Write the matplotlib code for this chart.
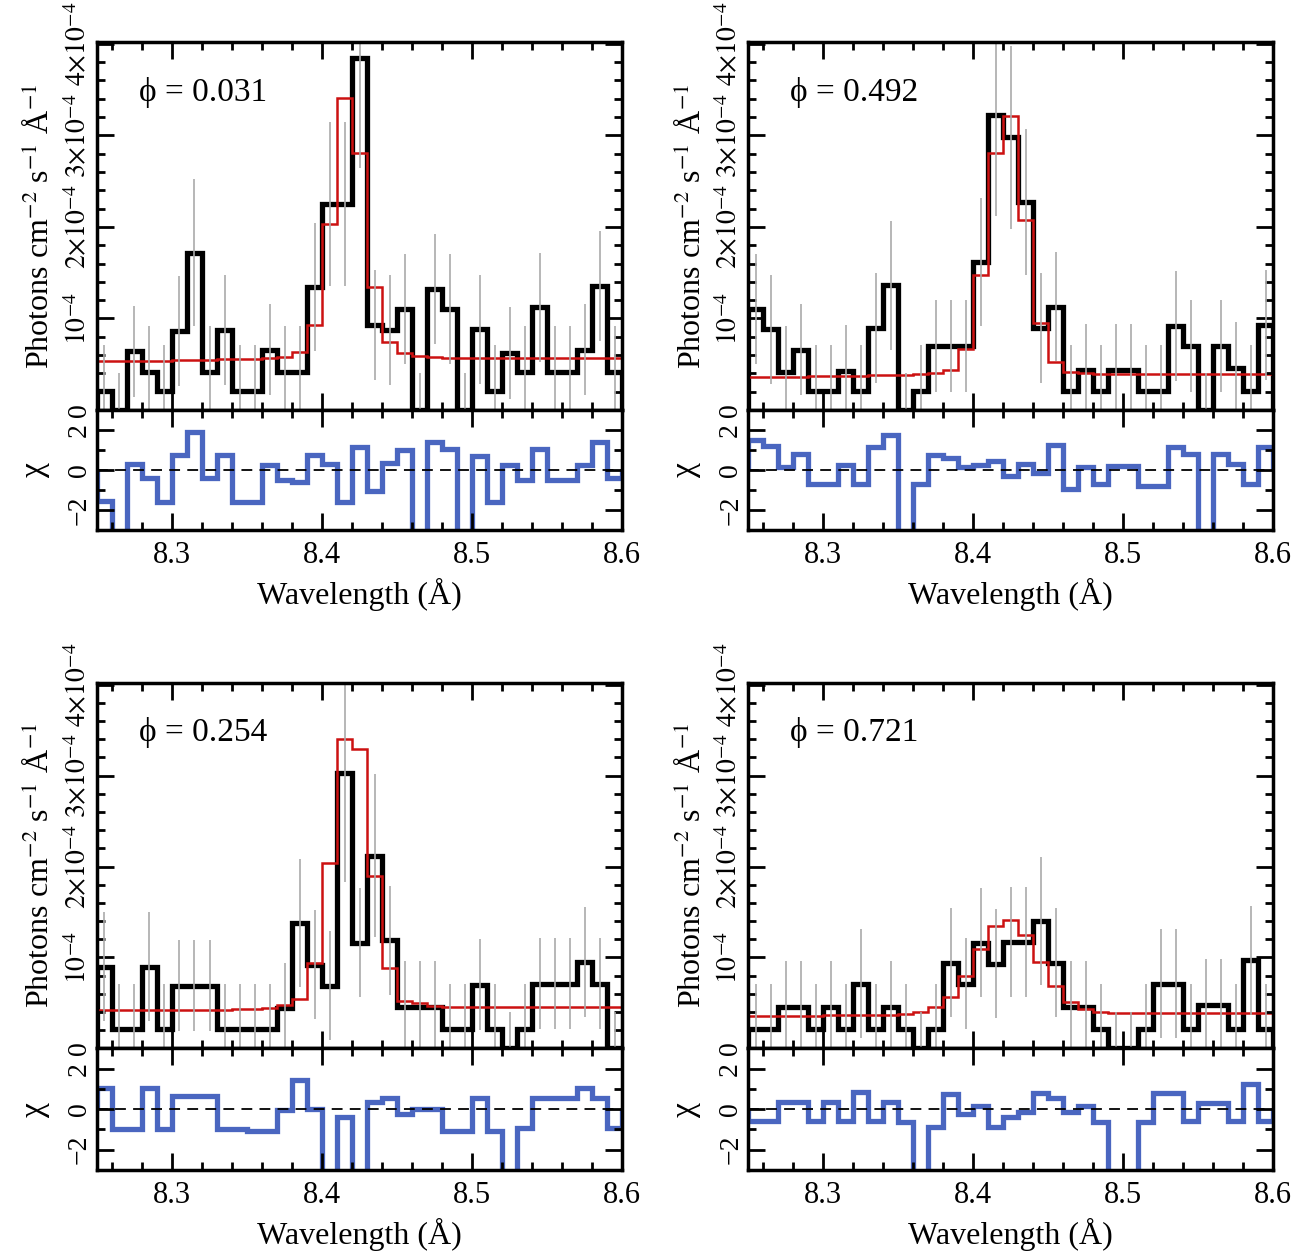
import numpy as np
import matplotlib
matplotlib.use("Agg")
import matplotlib.pyplot as plt
from matplotlib.ticker import MultipleLocator, FixedLocator

plt.rcParams['font.family'] = ['Liberation Serif', 'DejaVu Serif']
plt.rcParams['mathtext.fontset'] = 'stix'

# bin left edges, 0.01 A wide, 8.25 .. 8.59
edges = np.round(8.25 + 0.01 * np.arange(35), 3)

phases = ["0.031", "0.492", "0.254", "0.721"]

# flux in units of 1e-4 photons cm^-2 s^-1 A^-1
data_031 = [0.21, 0, 0.64, 0.42, 0.21, 0.86, 1.72, 0.42, 0.87, 0.21, 0.21, 0.66, 0.42, 0.42, 1.34,
            2.25, 2.25, 3.84, 0.93, 0.87, 1.10, 0, 1.32, 1.10, 0, 0.88, 0.21, 0.62, 0.42, 1.12,
            0.42, 0.42, 0.66, 1.35, 0.42]
model_031 = [0.53, 0.53, 0.54, 0.54, 0.54, 0.55, 0.55, 0.55, 0.56, 0.56, 0.56, 0.57, 0.58, 0.63, 0.93,
             2.03, 3.41, 2.81, 1.34, 0.74, 0.62, 0.59, 0.58, 0.57, 0.57, 0.57, 0.57, 0.57, 0.57, 0.57,
             0.57, 0.57, 0.57, 0.57, 0.57]
resid_031 = [-1.56, -3.5, 0.3, -0.4, -1.6, 0.74, 1.92, -0.4, 0.74, -1.6, -1.6, 0.25, -0.5, -0.62, 0.74,
             0.3, -1.6, 1.15, -1.07, 0.36, 1.02, -3.5, 1.39, 1.07, -3.5, 0.69, -1.6, 0.25, -0.5, 1.07,
             -0.5, -0.5, 0.25, 1.39, -0.4]

data_492 = [1.10, 0.88, 0.42, 0.66, 0.21, 0.21, 0.43, 0.21, 0.90, 1.36, 0, 0.21, 0.70, 0.70, 0.70,
            1.62, 3.22, 2.98, 2.27, 0.90, 1.13, 0.21, 0.44, 0.21, 0.44, 0.44, 0.21, 0.21, 0.92, 0.70,
            0, 0.70, 0.46, 0.21, 0.93]
model_492 = [0.36, 0.36, 0.36, 0.36, 0.37, 0.37, 0.37, 0.37, 0.38, 0.38, 0.38, 0.39, 0.40, 0.44, 0.67,
             1.47, 2.81, 3.21, 2.07, 0.95, 0.52, 0.42, 0.40, 0.39, 0.39, 0.39, 0.39, 0.39, 0.39, 0.39,
             0.39, 0.39, 0.39, 0.39, 0.39]
resid_492 = [1.48, 1.18, 0.16, 0.79, -0.69, -0.69, 0.25, -0.69, 1.15, 1.75, -3.5, -0.69, 0.74, 0.62, 0.13,
             0.25, 0.46, -0.3, 0.3, -0.13, 1.23, -0.95, 0.16, -0.69, 0.2, 0.2, -0.79, -0.79, 1.15, 0.79,
             -3.5, 0.79, 0.3, -0.69, 1.15]

data_254 = [0.90, 0.21, 0.21, 0.90, 0.21, 0.69, 0.69, 0.69, 0.21, 0.21, 0.21, 0.21, 0.44, 1.38, 0.92,
            0.69, 3.03, 1.16, 2.12, 1.19, 0.46, 0.46, 0.46, 0.21, 0.21, 0.70, 0.21, 0, 0.21, 0.71,
            0.71, 0.71, 0.95, 0.71, 0]
model_254 = [0.42, 0.42, 0.42, 0.42, 0.42, 0.42, 0.42, 0.42, 0.42, 0.43, 0.43, 0.44, 0.48, 0.54, 0.94,
             2.04, 3.40, 3.29, 1.90, 0.88, 0.52, 0.50, 0.47, 0.45, 0.45, 0.45, 0.45, 0.45, 0.45, 0.45,
             0.45, 0.45, 0.45, 0.45, 0.45]
resid_254 = [1.02, -0.98, -0.98, 1.02, -0.98, 0.66, 0.66, 0.66, -0.98, -0.98, -1.07, -1.07, -0.03, 1.44, 0.0,
             -3.5, -0.4, -3.5, 0.33, 0.57, -0.25, 0.03, 0.03, -1.07, -1.07, 0.57, -1.07, -3.5, -0.95, 0.57,
             0.57, 0.57, 1.02, 0.57, -0.95]

data_721 = [0.21, 0.21, 0.46, 0.46, 0.21, 0.46, 0.21, 0.71, 0.21, 0.46, 0.21, 0, 0.21, 0.94, 0.71,
            1.16, 0.93, 1.17, 1.17, 1.40, 0.94, 0.46, 0.46, 0.21, 0, 0, 0.21, 0.71, 0.71, 0.21,
            0.48, 0.48, 0.21, 0.97, 0.21]
model_721 = [0.36, 0.36, 0.36, 0.36, 0.36, 0.37, 0.37, 0.37, 0.37, 0.37, 0.38, 0.40, 0.45, 0.57, 0.80,
             1.09, 1.35, 1.41, 1.25, 0.95, 0.69, 0.51, 0.43, 0.40, 0.39, 0.39, 0.39, 0.39, 0.39, 0.39,
             0.39, 0.39, 0.39, 0.39, 0.39]
resid_721 = [-0.57, -0.57, 0.33, 0.33, -0.57, 0.33, -0.57, 0.85, -0.57, 0.33, -0.62, -3.5, -0.9, 0.74, -0.25,
             0.16, -0.9, -0.4, -0.16, 0.79, 0.57, -0.16, 0.16, -0.62, -3.5, -3.5, -0.62, 0.79, 0.79, -0.57,
             0.3, 0.3, -0.57, 1.23, -0.57]

# 1-sigma errors (1e-4 units)
err_031 = [0.5, 0.4, 0.5, 0.5, 0.5, 0.6, 0.8, 0.5, 0.6, 0.5, 0.5, 0.5, 0.5, 0.5, 0.7,
           0.9, 0.9, 1.2, 0.6, 0.6, 0.6, 0.4, 0.6, 0.6, 0.4, 0.6, 0.5, 0.5, 0.5, 0.6,
           0.5, 0.5, 0.5, 0.6, 0.5]
err_492 = [0.6, 0.6, 0.5, 0.5, 0.5, 0.5, 0.5, 0.5, 0.6, 0.7, 0.4, 0.5, 0.5, 0.5, 0.5,
           0.7, 1.1, 1.0, 0.8, 0.6, 0.6, 0.5, 0.5, 0.5, 0.5, 0.5, 0.5, 0.5, 0.6, 0.5,
           0.4, 0.5, 0.5, 0.5, 0.6]
err_254 = [0.6, 0.5, 0.5, 0.6, 0.5, 0.5, 0.5, 0.5, 0.5, 0.5, 0.5, 0.5, 0.5, 0.7, 0.6,
           0.6, 1.2, 0.6, 0.9, 0.6, 0.5, 0.5, 0.5, 0.5, 0.5, 0.5, 0.5, 0.4, 0.5, 0.5,
           0.5, 0.5, 0.6, 0.5, 0.4]
err_721 = [0.5, 0.5, 0.5, 0.5, 0.5, 0.5, 0.5, 0.6, 0.5, 0.5, 0.5, 0.4, 0.5, 0.6, 0.5,
           0.6, 0.6, 0.6, 0.6, 0.7, 0.6, 0.5, 0.5, 0.5, 0.4, 0.4, 0.5, 0.6, 0.6, 0.5,
           0.5, 0.5, 0.5, 0.6, 0.5]

panels = [
    (phases[0], data_031, model_031, resid_031, err_031),
    (phases[1], data_492, model_492, resid_492, err_492),
    (phases[2], data_254, model_254, resid_254, err_254),
    (phases[3], data_721, model_721, resid_721, err_721),
]

lefts = [0.074, 0.571, 0.074, 0.571]
rows = [(0.6746, 0.2921, 0.5794), (0.6746, 0.2921, 0.5794),
        (0.168, 0.290, 0.0714), (0.168, 0.290, 0.0714)]
W = 0.401

fig = plt.figure(figsize=(13.1, 12.6), dpi=100)


def style(ax):
    ax.tick_params(which='both', direction='in', top=True, right=True, width=2, labelsize=20)
    ax.tick_params(which='major', length=12)
    ax.tick_params(which='minor', length=6)
    for s in ax.spines.values():
        s.set_linewidth(2.5)


for i, (ph, d, m, r, e) in enumerate(panels):
    main_y, main_h, res_y = rows[i]
    ax = fig.add_axes([lefts[i], main_y, W, main_h])
    axr = fig.add_axes([lefts[i], res_y, W, main_y - res_y], sharex=ax)
    x = np.append(edges, 8.60)
    cen = edges + 0.005
    dd = np.array(d) * 1e-4
    ax.errorbar(cen, dd, yerr=np.array(e) * 1e-4, fmt='none', ecolor='#aaaaaa', elinewidth=1.2)
    ax.stairs(dd, x, color='black', lw=3.8)
    ax.stairs(np.array(m) * 1e-4, x, color='#cc1111', lw=1.8)
    ax.set_xlim(8.25, 8.6)
    ax.set_ylim(0, 4.02e-4)
    ax.yaxis.set_major_locator(FixedLocator([0, 1e-4, 2e-4, 3e-4, 4e-4]))
    ax.yaxis.set_minor_locator(MultipleLocator(0.2e-4))
    ax.set_yticklabels(['0', r'$10^{-4}$', r'$2{\times}10^{-4}$', r'$3{\times}10^{-4}$', r'$4{\times}10^{-4}$'],
                       rotation=90, va='center')
    ax.set_ylabel(r'Photons cm$^{-2}$ s$^{-1}$ Å$^{-1}$', fontsize=23, labelpad=6)
    ax.text(0.08, 0.84, 'ϕ = ' + ph, transform=ax.transAxes, fontsize=24,
            family=['DejaVu Serif', 'Liberation Serif'] if False else None)
    style(ax)
    plt.setp(ax.get_xticklabels(), visible=False)

    axr.stairs(r, x, color='#4a66c0', lw=3.8)
    axr.axhline(0, color='black', ls=(0, (6, 4)), lw=1.3)
    axr.set_ylim(-3, 3)
    axr.yaxis.set_major_locator(FixedLocator([-2, 0, 2]))
    axr.yaxis.set_minor_locator(MultipleLocator(1))
    axr.set_yticklabels(['−2', '0', '2'], rotation=90, va='center')
    axr.xaxis.set_minor_locator(MultipleLocator(0.02))
    axr.set_xticks([8.3, 8.4, 8.5, 8.6])
    axr.set_xticklabels(['8.3', '8.4', '8.5', '8.6'])
    axr.set_xlim(8.25, 8.6)
    axr.set_ylabel('χ', fontsize=24, labelpad=12)
    axr.set_xlabel('Wavelength (Å)', fontsize=23, labelpad=6)
    style(axr)
    axr.tick_params(axis='x', labelsize=22, pad=8)

fig.savefig('out.png', dpi=100)
